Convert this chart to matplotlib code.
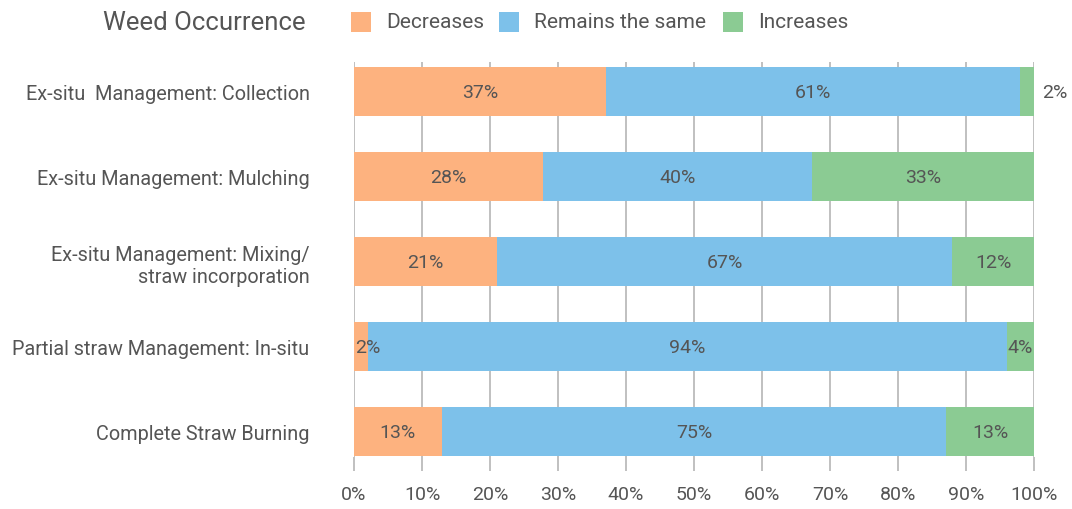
import matplotlib
matplotlib.use("Agg")
import matplotlib.pyplot as plt
from matplotlib.patches import Rectangle
import numpy as np

plt.rcParams['font.family'] = ['Roboto', 'DejaVu Sans']

# Survey shares (%) per straw management practice
categories = [
    "Ex-situ  Management: Collection",
    "Ex-situ Management: Mulching",
    "Ex-situ Management: Mixing/\nstraw incorporation",
    "Partial straw Management: In-situ",
    "Complete Straw Burning",
]
decreases = [37, 28, 21, 2, 13]
remains_same = [61, 40, 67, 94, 75]
increases = [2, 33, 12, 4, 13]

series_names = ["Decreases", "Remains the same", "Increases"]
colors = ["#FDB27F", "#7DC1EA", "#8BCB93"]
x_ticks = [0, 10, 20, 30, 40, 50, 60, 70, 80, 90, 100]

text_color = "#555555"
grid_color = "#BBBBBB"
fs = 14

fig = plt.figure(figsize=(10.72, 5.10), dpi=100)
ax = fig.add_axes([354 / 1072, 1 - 458 / 510, 680 / 1072, (458 - 63) / 510])

data = np.array([decreases, remains_same, increases], dtype=float)
totals = data.sum(axis=0)
widths = data / totals * 100
y = np.arange(len(categories))
bar_h = 0.58

left = np.zeros(len(categories))
for i, (name, col) in enumerate(zip(series_names, colors)):
    ax.barh(y, widths[i], left=left, height=bar_h, color=col, edgecolor="none", zorder=2)
    for j in range(len(categories)):
        val = data[i, j]
        w = widths[i, j]
        start = left[j]
        label = f"{int(val)}%"
        if i == len(series_names) - 1 and val < 3:
            ax.text(start + w + 1.2, y[j], label, ha="left", va="center",
                    fontsize=fs, color=text_color, zorder=3)
        elif w < 6 and i == 0:
            ax.text(start + 0.2, y[j], label, ha="left", va="center",
                    fontsize=fs, color=text_color, zorder=3)
        elif w < 6 and i == len(series_names) - 1:
            ax.text(start + w - 0.2, y[j], label, ha="right", va="center",
                    fontsize=fs, color=text_color, zorder=3)
        else:
            ax.text(start + w / 2, y[j], label, ha="center", va="center",
                    fontsize=fs, color=text_color, zorder=3)
    left = left + widths[i]

ax.set_xlim(0, 100)
ax.set_ylim(len(categories) - 1 + 0.30, -0.35)
ax.set_xticks(x_ticks)
ax.set_xticklabels([f"{t}%" for t in x_ticks], fontsize=fs, color=text_color)
ax.set_yticks(y)
ax.set_yticklabels(categories, fontsize=14.3, color=text_color, ha="right",
                   multialignment="right")
ax.tick_params(axis="y", length=0, pad=32)
ax.tick_params(axis="x", length=10, width=1.3, color=grid_color, pad=10)
for s in ax.spines.values():
    s.set_visible(False)
ax.grid(axis="x", color=grid_color, linewidth=1.3, zorder=0)
ax.set_axisbelow(True)

# Title and legend row
fig.text(103 / 1072, 1 - 23 / 510, "Weed Occurrence", fontsize=18.5, color=text_color,
         ha="left", va="center")
legend_x = [351, 499, 723]
for lx, name, col in zip(legend_x, series_names, colors):
    fig.patches.append(Rectangle((lx / 1072, 1 - 33 / 510), 20 / 1072, 20 / 510,
                                 transform=fig.transFigure, facecolor=col,
                                 edgecolor="none"))
    fig.text((lx + 35) / 1072, 1 - 23 / 510, name, fontsize=15, color=text_color,
             ha="left", va="center")

fig.savefig("out.png", dpi=100)
